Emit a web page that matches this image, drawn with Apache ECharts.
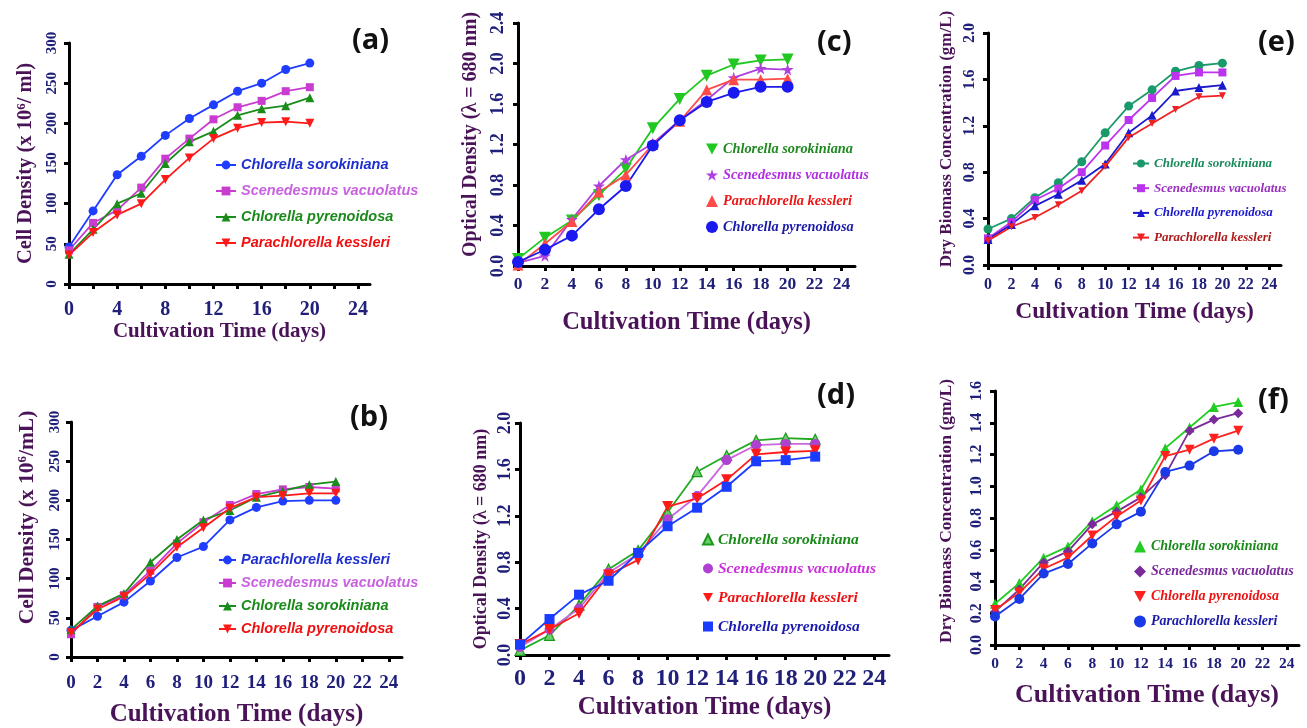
<!DOCTYPE html>
<html>
<head>
<meta charset="utf-8">
<script src="https://cdn.jsdelivr.net/npm/echarts@6/dist/echarts.min.js"></script>
<style>
  html, body { margin: 0; padding: 0; background: #fff; }
  #chart { width: 1307px; height: 728px; }
</style>
</head>
<body>
<div id="chart"></div>
<script>
// cultivation days and axis ticks
const days = [0, 2, 4, 6, 8, 10, 12, 14, 16, 18, 20];
const xTicks = [0, 2, 4, 6, 8, 10, 12, 14, 16, 18, 20, 22, 24];
const xLabelsA = [0, 4, 8, 12, 16, 20, 24];

// (a) cell density (x 10^6 / ml)
const aSorokiniana = [46, 91, 136, 159, 185, 206, 223, 240, 250, 267, 275];
const aVacuolatus = [42, 76, 92, 120, 156, 181, 205, 220, 228, 240, 245];
const aPyrenoidosa = [37, 68, 100, 113, 150, 177, 190, 210, 218, 222, 232];
const aKessleri = [36, 64, 86, 100, 130, 157, 181, 194, 201, 202, 200];

// (b) cell density (x 10^6 / mL)
const bKessleri = [34, 52, 70, 97, 127, 141, 175, 191, 199, 200, 200];
const bVacuolatus = [29, 64, 79, 110, 145, 172, 194, 208, 214, 217, 215];
const bSorokiniana = [35, 65, 81, 121, 150, 175, 187, 204, 212, 220, 224];
const bPyrenoidosa = [31, 61, 77, 106, 140, 165, 190, 204, 206, 209, 209];

// (c) optical density
const cSorokiniana = [0.07, 0.28, 0.45, 0.70, 0.96, 1.36, 1.65, 1.88, 1.99, 2.03, 2.04];
const cVacuolatus = [0.03, 0.10, 0.46, 0.79, 1.05, 1.21, 1.44, 1.64, 1.86, 1.95, 1.94];
const cKessleri = [0.01, 0.22, 0.44, 0.73, 0.90, 1.20, 1.43, 1.74, 1.84, 1.84, 1.85];
const cPyrenoidosa = [0.04, 0.16, 0.30, 0.56, 0.79, 1.19, 1.44, 1.62, 1.71, 1.77, 1.77];

// (d) optical density
const dSorokiniana = [0.04, 0.17, 0.43, 0.74, 0.90, 1.23, 1.58, 1.72, 1.85, 1.87, 1.86];
const dVacuolatus = [0.07, 0.22, 0.40, 0.71, 0.87, 1.17, 1.37, 1.68, 1.81, 1.82, 1.82];
const dKessleri = [0.09, 0.22, 0.36, 0.69, 0.82, 1.28, 1.35, 1.51, 1.73, 1.75, 1.76];
const dPyrenoidosa = [0.09, 0.31, 0.52, 0.64, 0.88, 1.11, 1.27, 1.45, 1.67, 1.68, 1.71];

// (e) dry biomass (gm/L)
const eSorokiniana = [0.31, 0.40, 0.58, 0.71, 0.89, 1.14, 1.37, 1.51, 1.67, 1.72, 1.74];
const eVacuolatus = [0.23, 0.37, 0.56, 0.66, 0.80, 1.03, 1.25, 1.44, 1.63, 1.66, 1.66];
const ePyrenoidosa = [0.22, 0.35, 0.51, 0.61, 0.73, 0.87, 1.14, 1.29, 1.50, 1.53, 1.55];
const eKessleri = [0.21, 0.33, 0.41, 0.52, 0.64, 0.85, 1.10, 1.22, 1.34, 1.45, 1.46];

// (f) dry biomass (gm/L)
const fSorokiniana = [0.26, 0.39, 0.55, 0.62, 0.78, 0.88, 0.98, 1.24, 1.37, 1.50, 1.53];
const fVacuolatus = [0.21, 0.35, 0.52, 0.59, 0.76, 0.84, 0.93, 1.07, 1.35, 1.42, 1.46];
const fPyrenoidosa = [0.22, 0.33, 0.48, 0.55, 0.69, 0.81, 0.91, 1.19, 1.23, 1.30, 1.35];
const fKessleri = [0.18, 0.29, 0.45, 0.51, 0.64, 0.76, 0.84, 1.09, 1.13, 1.22, 1.23];

const SERIF = "'Liberation Serif', 'Times New Roman', serif";
const SANS = "'Liberation Sans', Arial, sans-serif";
const NAME_COLOR = '#4a1358';
const TICK_COLOR = '#20207a';
const INV_TRI = 'path://M0,0L10,0L5,9Z';
const STAR = 'path://M5,0L6.2,3.6L10,3.6L6.9,5.9L8.1,9.5L5,7.3L1.9,9.5L3.1,5.9L0,3.6L3.8,3.6Z';
const OD_NAME = 'Optical Density (λ = 680 nm)';
const DB_NAME = 'Dry Biomass Concentration (gm/L)';

// 每个子图的布局和样式
const panels = [
	{
		key: 'a', grid: [69, 43, 301, 241], yMax: 300, yStep: 50, dec: 0,
		yName: 'Cell Density (x 10{s|6}/ ml)', yNameSize: 20.5, yNameGap: 33, yShift: 0,
		yLabelSize: 15, yLabelMargin: 9,
		xLabels: xLabelsA, xLabelSize: 20, xLabelMargin: 16, xNameSize: 21, xNameGap: 37,
		title: [352, 26],
		legend: { left: 215, top: 157, w: 20, h: 11, gap: 10, lh: 16, font: SANS, size: 14.5, symbolOnly: false },
		series: [
			{ name: 'Chlorella sorokiniana', data: aSorokiniana, color: '#1f3dff', symbol: 'circle', size: 9, text: '#1f2fd0' },
			{ name: 'Scenedesmus vacuolatus', data: aVacuolatus, color: '#c83cd0', symbol: 'rect', size: 8, text: '#c862e0' },
			{ name: 'Chlorella pyrenoidosa', data: aPyrenoidosa, color: '#1a8c1a', symbol: 'triangle', size: 9, text: '#1a8a1a' },
			{ name: 'Parachlorella kessleri', data: aKessleri, color: '#ff1a1a', symbol: INV_TRI, size: 9, text: '#f01010' },
		],
	},
	{
		key: 'b', grid: [71, 422, 331, 237], yMax: 300, yStep: 50, dec: 0,
		yName: 'Cell Density (x 10{s|6}/mL)', yNameSize: 21.5, yNameGap: 33, yShift: 22,
		yLabelSize: 15, yLabelMargin: 8,
		xLabels: xTicks, xLabelSize: 19, xLabelMargin: 16.5, xNameSize: 25, xNameGap: 45,
		title: [350, 403],
		legend: { left: 218, top: 552, w: 17, h: 11, gap: 7, lh: 16, font: SANS, size: 14.5, symbolOnly: false },
		series: [
			{ name: 'Parachlorella kessleri', data: bKessleri, color: '#1f3dff', symbol: 'circle', size: 9, text: '#1f2fd0' },
			{ name: 'Scenedesmus vacuolatus', data: bVacuolatus, color: '#c83cd0', symbol: 'rect', size: 8, text: '#c862e0' },
			{ name: 'Chlorella sorokiniana', data: bSorokiniana, color: '#1a8c1a', symbol: 'triangle', size: 9, text: '#1a8a1a' },
			{ name: 'Chlorella pyrenoidosa', data: bPyrenoidosa, color: '#ff1a1a', symbol: INV_TRI, size: 9, text: '#f01010' },
		],
	},
	{
		key: 'c', grid: [518, 23, 337, 243], yMax: 2.4, yStep: 0.4, dec: 1,
		yName: OD_NAME, yNameSize: 20, yNameGap: 37, yShift: 10,
		yLabelSize: 18, yLabelMargin: 11,
		xLabels: xTicks, xLabelSize: 17.5, xLabelMargin: 9.5, xNameSize: 24.5, xNameGap: 44,
		title: [817, 28],
		legend: { left: 706, top: 141, w: 12, h: 12, gap: 10, lh: 16, font: SERIF, size: 14.3, symbolOnly: true },
		series: [
			{ name: 'Chlorella sorokiniana', data: cSorokiniana, color: '#22c822', symbol: INV_TRI, size: 12, text: '#1f8a1f' },
			{ name: 'Scenedesmus vacuolatus', data: cVacuolatus, color: '#b040e0', symbol: STAR, size: 12, text: '#b030e0' },
			{ name: 'Parachlorella kessleri', data: cKessleri, color: '#ff4a4a', symbol: 'triangle', size: 11, text: '#ee1515' },
			{ name: 'Chlorella pyrenoidosa', data: cPyrenoidosa, color: '#1a1af0', symbol: 'circle', size: 12, text: '#1a1aa8' },
		],
	},
	{
		key: 'd', grid: [520, 423, 369, 232], yMax: 2.0, yStep: 0.4, dec: 1,
		yName: OD_NAME, yNameSize: 18, yNameGap: 29.5, yShift: 0,
		yLabelSize: 18, yLabelMargin: 6,
		xLabels: xTicks, xLabelSize: 24, xLabelMargin: 12, xNameSize: 25, xNameGap: 40.5,
		title: [817, 381],
		legend: { left: 702, top: 531, w: 10, h: 10, gap: 12, lh: 17, font: SERIF, size: 15.5, symbolOnly: true },
		series: [
			{ name: 'Chlorella sorokiniana', data: dSorokiniana, color: '#6ccc6c', border: '#1a9a1a', line: '#22aa22', symbol: 'triangle', size: 10, text: '#1a8a1a' },
			{ name: 'Scenedesmus vacuolatus', data: dVacuolatus, color: '#b040d0', line: '#cc66dd', symbol: 'circle', size: 10, text: '#cc30dd' },
			{ name: 'Parachlorella kessleri', data: dKessleri, color: '#ff1a1a', symbol: INV_TRI, size: 11, text: '#ee1111' },
			{ name: 'Chlorella pyrenoidosa', data: dPyrenoidosa, color: '#1a3cff', symbol: 'rect', size: 10, text: '#1a1ab0' },
		],
	},
	{
		key: 'e', grid: [988, 33, 293, 232], yMax: 2.0, yStep: 0.4, dec: 1,
		yName: DB_NAME, yNameSize: 17, yNameGap: 33, yShift: 10,
		yLabelSize: 16, yLabelMargin: 10,
		xLabels: xTicks, xLabelSize: 16, xLabelMargin: 11.5, xNameSize: 23.5, xNameGap: 35,
		title: [1258, 28],
		legend: { left: 1132, top: 156, w: 16, h: 10, gap: 9.7, lh: 15, font: SERIF, size: 13, symbolOnly: false },
		series: [
			{ name: 'Chlorella sorokiniana', data: eSorokiniana, color: '#1a9a6a', symbol: 'circle', size: 9, text: '#1a8a5a' },
			{ name: 'Scenedesmus vacuolatus', data: eVacuolatus, color: '#bb33ee', symbol: 'rect', size: 8, text: '#9a30c0' },
			{ name: 'Chlorella pyrenoidosa', data: ePyrenoidosa, color: '#1a1acc', symbol: 'triangle', size: 9, text: '#1a1acc' },
			{ name: 'Parachlorella kessleri', data: eKessleri, color: '#ee2222', symbol: INV_TRI, size: 7, text: '#b01a1a' },
		],
	},
	{
		key: 'f', grid: [995, 391, 304, 254], yMax: 1.6, yStep: 0.2, dec: 1,
		yName: DB_NAME, yNameSize: 17.5, yNameGap: 40, yShift: 7,
		yLabelSize: 16, yLabelMargin: 10,
		xLabels: xTicks, xLabelSize: 15.5, xLabelMargin: 11, xNameSize: 26, xNameGap: 37,
		title: [1258, 386],
		legend: { left: 1134, top: 539, w: 12, h: 12, gap: 10, lh: 15, font: SERIF, size: 14, symbolOnly: true },
		series: [
			{ name: 'Chlorella sorokiniana', data: fSorokiniana, color: '#22cc22', symbol: 'triangle', size: 10, text: '#1a8a1a' },
			{ name: 'Scenedesmus vacuolatus', data: fVacuolatus, color: '#7a2a9a', symbol: 'diamond', size: 10, text: '#7a2a9a' },
			{ name: 'Chlorella pyrenoidosa', data: fPyrenoidosa, color: '#ff2020', symbol: INV_TRI, size: 10, text: '#ee1111' },
			{ name: 'Parachlorella kessleri', data: fKessleri, color: '#1a3ae8', symbol: 'circle', size: 10, text: '#1a1aaa' },
		],
	},
];

const option = {
	backgroundColor: '#fff',
	animation: false,
	grid: [], xAxis: [], yAxis: [], series: [], legend: [], title: [],
};

panels.forEach((p, i) => {
	option.grid.push({ left: p.grid[0], top: p.grid[1], width: p.grid[2], height: p.grid[3], containLabel: false });

	option.title.push({
		text: '(' + p.key + ')', left: p.title[0], top: p.title[1], padding: 0,
		textStyle: { fontFamily: "'Open Sans', sans-serif", fontWeight: 'bold', fontSize: 29, color: '#111' },
	});

	option.xAxis.push({
		type: 'value', gridIndex: i, min: 0, max: 25,
		name: 'Cultivation Time (days)', nameLocation: 'middle', nameGap: p.xNameGap,
		nameTextStyle: { fontFamily: SERIF, fontWeight: 'bold', fontSize: p.xNameSize, color: NAME_COLOR },
		axisLine: { lineStyle: { color: '#000', width: 3 } },
		axisTick: { length: 5, customValues: xTicks, lineStyle: { color: '#000', width: 3 } },
		axisLabel: {
			customValues: p.xLabels, margin: p.xLabelMargin,
			fontFamily: SERIF, fontWeight: 'bold', fontSize: p.xLabelSize, color: TICK_COLOR,
		},
		splitLine: { show: false },
	});

	option.yAxis.push({
		type: 'value', gridIndex: i, min: 0, max: p.yMax, interval: p.yStep,
		name: p.yName, nameLocation: 'middle', nameGap: p.yNameGap,
		nameTextStyle: {
			fontFamily: SERIF, fontWeight: 'bold', fontSize: p.yNameSize, color: NAME_COLOR,
			padding: [0, 0, 0, p.yShift * 2],
			rich: { s: { fontFamily: SERIF, fontWeight: 'bold', fontSize: 13, color: NAME_COLOR, verticalAlign: 'top' } },
		},
		axisLine: { show: true, lineStyle: { color: '#000', width: 3 } },
		axisTick: { show: true, length: 5, lineStyle: { color: '#000', width: 3 } },
		axisLabel: {
			rotate: 90, margin: p.yLabelMargin,
			fontFamily: SERIF, fontWeight: 'bold', fontSize: p.yLabelSize, color: TICK_COLOR,
			formatter: (v) => v.toFixed(p.dec),
		},
		splitLine: { show: false },
	});

	p.series.forEach((s) => {
		option.series.push({
			type: 'line', name: p.key + '|' + s.name,
			xAxisIndex: i, yAxisIndex: i,
			data: days.map((d, k) => [d, s.data[k]]),
			symbol: s.symbol, symbolSize: s.size,
			color: s.color,
			lineStyle: { width: 1.8, color: s.line || s.color },
			itemStyle: { color: s.color, borderColor: s.border || s.color, borderWidth: s.border ? 1.2 : 0 },
			emphasis: { disabled: true },
		});
	});

	const lg = p.legend;
	option.legend.push({
		orient: 'vertical', left: lg.left, top: lg.top, padding: 0,
		itemWidth: lg.w, itemHeight: lg.h, itemGap: lg.gap,
		selectedMode: false,
		formatter: (n) => n.split('|')[1],
		textStyle: { fontFamily: lg.font, fontStyle: 'italic', fontWeight: 'bold', fontSize: lg.size, lineHeight: lg.lh },
		data: p.series.map((s) => {
			const item = { name: p.key + '|' + s.name, textStyle: { color: s.text } };
			if (lg.symbolOnly) item.icon = s.symbol;
			return item;
		}),
	});
});

const chart = echarts.init(document.getElementById('chart'), null, { renderer: 'canvas' });
chart.setOption(option);
</script>
</body>
</html>
